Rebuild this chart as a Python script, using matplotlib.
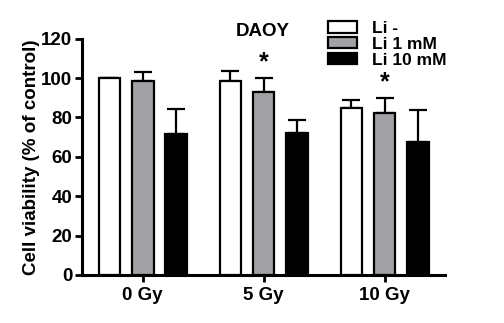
import numpy as np
import matplotlib.pyplot as plt

plt.rcParams['font.family'] = ['Liberation Sans', 'DejaVu Sans']
plt.rcParams['font.weight'] = 'bold'

# data
groups = ["0 Gy", "5 Gy", "10 Gy"]
series = ["Li -", "Li 1 mM", "Li 10 mM"]
means = {
    "Li -": [100, 98.5, 85],
    "Li 1 mM": [98.5, 93, 82.5],
    "Li 10 mM": [71.5, 72, 67.5],
}
errs = {
    "Li -": [0, 5, 4],
    "Li 1 mM": [4.5, 7, 7.2],
    "Li 10 mM": [13, 6.5, 16.5],
}
colors = ["white", "#a2a2a6", "black"]
stars = [(1, "Li 1 mM"), (2, "Li 1 mM")]

fig = plt.figure(figsize=(5.04, 3.23), dpi=100)
ax = fig.add_axes([0.163, 0.149, 0.72, 0.731])

x = np.arange(len(groups))
step = 0.274
width = 0.18
for i, name in enumerate(series):
    pos = x + (i - 1) * step
    ax.bar(pos, means[name], width, color=colors[i], edgecolor="black",
           linewidth=1.6, label=name, zorder=2)
    ax.errorbar(pos, means[name], yerr=[np.zeros(3), errs[name]], fmt="none",
                ecolor="black", elinewidth=1.6, capsize=6.5, capthick=1.6, zorder=1)

for g, name in stars:
    i = series.index(name)
    top = means[name][g] + errs[name][g]
    ax.text(x[g] + (i - 1) * step, top + 2, "*", ha="center", va="bottom",
            fontsize=18, fontweight="bold")

ax.set_xlim(-0.5, 2.5)
ax.set_ylim(0, 120)
ax.set_yticks(np.arange(0, 121, 20))
ax.set_xticks(x)
ax.set_xticklabels(groups, fontsize=13.5, fontweight="bold")
ax.tick_params(axis="y", labelsize=13.5, width=2, length=5, pad=2)
ax.tick_params(axis="x", width=2, length=5, pad=4)
for lab in ax.get_yticklabels():
    lab.set_fontweight("bold")
ax.set_ylabel("Cell viability (% of control)", fontsize=13.5, fontweight="bold",
              labelpad=1)
for s in ["top", "right"]:
    ax.spines[s].set_visible(False)
for s in ["left", "bottom"]:
    ax.spines[s].set_linewidth(2.2)

fig.text(263 / 504, 1 - 32 / 323, "DAOY", ha="center", va="center",
         fontsize=13.5, fontweight="bold")

leg = fig.legend(loc="upper left", bbox_to_anchor=(328 / 504, 1 - 21 / 323),
                 bbox_transform=fig.transFigure, frameon=False,
                 fontsize=12.5, handlelength=1.67, handleheight=0.63,
                 labelspacing=0.05, handletextpad=0.85, borderpad=0,
                 borderaxespad=0)
plt.savefig("out.png", dpi=100)
